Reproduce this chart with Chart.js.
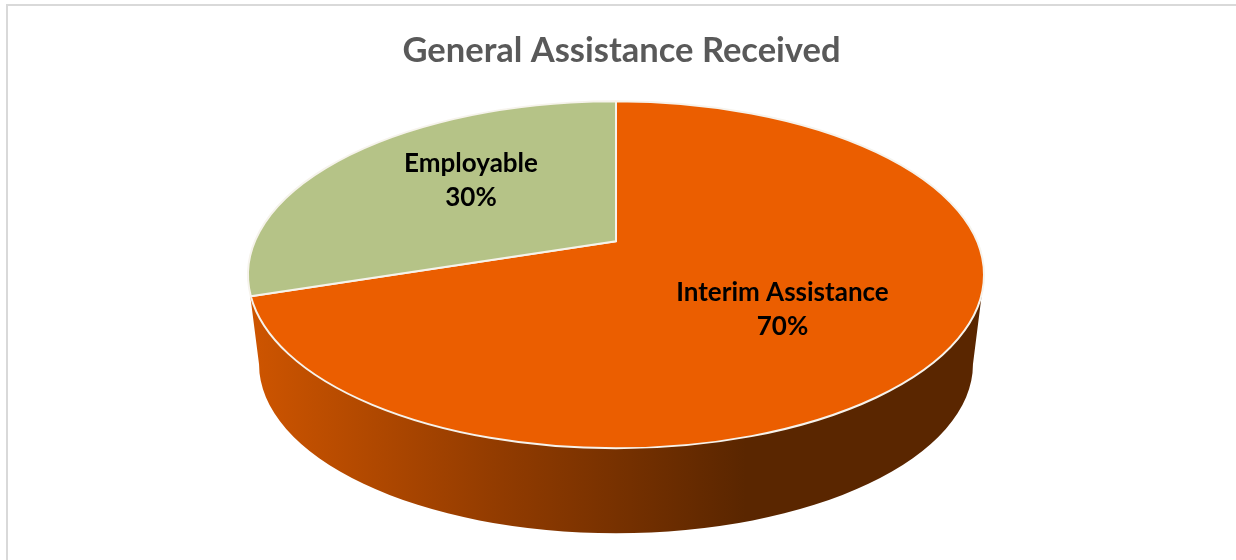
<!DOCTYPE html>
<html>
<head>
<meta charset="utf-8">
<script src="https://cdn.jsdelivr.net/npm/chart.js@4"></script>
<style>
html,body{margin:0;padding:0;background:#fff;width:1236px;height:560px;overflow:hidden}
#frame{position:absolute;left:6px;top:4px;right:0;bottom:0;border-left:2px solid #d9d9d9;border-top:2px solid #d9d9d9}
canvas{position:absolute;left:0;top:0}
</style>
</head>
<body>
<div id="frame"></div>
<canvas id="c" width="1236" height="560"></canvas>
<script>
const categories = ['Interim Assistance', 'Employable'];
const shares = [70, 30];
const sliceColors = ['#EB5E00', '#B5C387'];
const titleText = 'General Assistance Received';

// perspective of the tilted disc
const tilt = -0.193, flatten = 173.5 / 368;
function project(el, angle, f) {
  const r = el.outerRadius, s = r * flatten;
  const u = Math.cos(angle) * f, v = Math.sin(angle) * f, den = 1 + tilt * v;
  return { x: el.x + r * Math.sqrt(1 - tilt * tilt) * u / den, y: el.y + s * (v + tilt) / den };
}
function rimAngle(el, angle) {
  const p = project(el, angle, 1);
  return Math.atan2((p.y - el.y) / (el.outerRadius * flatten), (p.x - el.x) / el.outerRadius);
}
const labelSpots = [{ dx: 166.5, dy: 18 }, { dx: -145, dy: -111 }];

const pie3d = {
  id: 'pie3d',
  afterLayout(chart) { chart.titleBlock.left += 5.5; chart.titleBlock.right += 5.5; },
  beforeDatasetDraw(chart, args) {
    const ctx = chart.ctx, arcs = args.meta.data, first = arcs[0];
    const cx = first.x, cy = first.y, rx = first.outerRadius, ry = rx * flatten;
    // side wall
    const g = ctx.createLinearGradient(cx - rx + 10, 0, cx + 130, 0);
    g.addColorStop(0, '#CC5400');
    g.addColorStop(0.5, '#913B00');
    g.addColorStop(1, '#5A2600');
    const bx = rx * 0.97, by = ry * 0.974, bcy = cy + 89.5;
    ctx.save();
    ctx.beginPath();
    ctx.moveTo(cx - rx + 2, cy + 19);
    ctx.lineTo(cx - bx, bcy);
    ctx.ellipse(cx, bcy, bx, by, 0, Math.PI, 0, true);
    ctx.lineTo(cx + rx - 1, cy + 10);
    ctx.closePath();
    ctx.fillStyle = g;
    ctx.fill();
    // top face
    const apex = project(first, 0, 0);
    arcs.forEach((el, i) => {
      const t0 = rimAngle(el, el.startAngle);
      let t1 = rimAngle(el, el.endAngle);
      while (t1 <= t0) t1 += Math.PI * 2;
      ctx.beginPath();
      ctx.moveTo(apex.x, apex.y);
      ctx.ellipse(cx, cy, rx, ry, 0, t0, t1);
      ctx.closePath();
      ctx.fillStyle = sliceColors[i];
      ctx.fill();
      ctx.lineWidth = 2;
      ctx.strokeStyle = '#F6F3EC';
      ctx.lineJoin = 'round';
      ctx.stroke();
    });
    // labels
    ctx.fillStyle = '#000';
    ctx.font = 'bold 26px Lato';
    ctx.textAlign = 'center';
    ctx.textBaseline = 'middle';
    arcs.forEach((el, i) => {
      const x = cx + labelSpots[i].dx, y = cy + labelSpots[i].dy;
      ctx.fillText(categories[i], x, y);
      ctx.fillText(shares[i] + '%', x, y + 34);
    });
    ctx.restore();
    return false;
  }
};

new Chart(document.getElementById('c'), {
  type: 'pie',
  data: {
    labels: categories,
    datasets: [{ data: shares, backgroundColor: sliceColors, borderWidth: 0, radius: 368 }]
  },
  options: {
    responsive: false,
    animation: false,
    layout: { padding: { top: 0, right: 4, left: 0, bottom: 89 } },
    plugins: {
      legend: { display: false },
      tooltip: { enabled: false },
      title: {
        display: true,
        text: titleText,
        color: '#595959',
        font: { family: 'Lato', weight: 'bold', size: 34.5 },
        padding: { top: 30, bottom: 7.2 }
      }
    }
  },
  plugins: [pie3d]
});
</script>
</body>
</html>
